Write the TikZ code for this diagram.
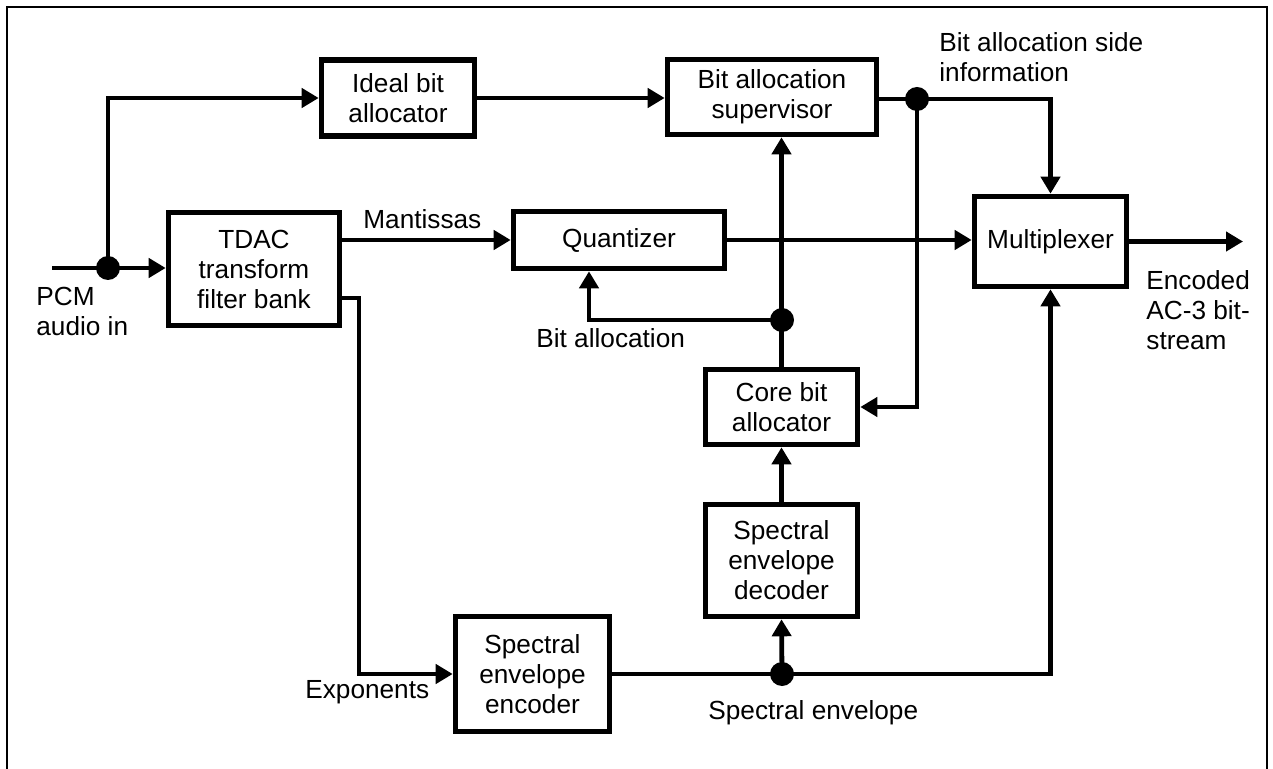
\documentclass[tikz,border=0pt]{standalone}
\usepackage{fontspec}
\setmainfont{Liberation Sans}
\usetikzlibrary{arrows.meta,calc}
\begin{document}
\begin{tikzpicture}[x=0.5pt,y=-0.5pt,
  every node/.style={font=\fontsize{13.1}{15}\selectfont},
  blk/.style={draw,line width=2.8pt,rectangle,align=center,inner sep=0pt},
  conn/.style={line width=2.4pt},
  arr/.style={conn,-{Triangle[length=8.5pt,width=9.5pt]}},
  jdot/.style={circle,fill,inner sep=0pt,minimum size=12pt},
  lbl/.style={inner sep=0pt,align=left}]
\useasboundingbox (0,0) rectangle (1273,769);
\draw[line width=1.2pt] (7,769) -- (7,7) -- (1267,7) -- (1267,769);

% blocks
\node[blk,minimum width=76.5pt,minimum height=38pt] (ideal) at (398,98) {Ideal bit\\allocator};
\node[blk,minimum width=85.5pt,minimum height=56.5pt] (tdac) at (254,269) {TDAC\\transform\\filter bank};
\node[blk,minimum width=104.5pt,minimum height=37.5pt] (sup) at (772,97) {Bit allocation\\supervisor};
\node[blk,minimum width=105.5pt,minimum height=28.5pt] (quant) at (619,240) {Quantizer};
\node[blk,minimum width=76pt,minimum height=45pt] (mux) at (1050.5,241.5) {Multiplexer};
\node[blk,minimum width=76pt,minimum height=37.5pt] (core) at (781.5,407) {Core bit\\allocator};
\node[blk,minimum width=76pt,minimum height=56pt] (dec) at (781.5,560.5) {Spectral\\envelope\\decoder};
\node[blk,minimum width=77pt,minimum height=57.5pt] (enc) at (532.5,674) {Spectral\\envelope\\encoder};

% junctions and free ends
\coordinate (in) at (52,268);
\node[jdot] (d1) at (108,268) {};
\node[jdot] (d2) at (917,99) {};
\node[jdot] (d3) at (782,320) {};
\node[jdot] (d4) at (782,674) {};
\coordinate (y298) at (0,298);
\coordinate (x359) at (359,0);
\coordinate (qin) at (589,0);
\coordinate (out) at (1243,241.5);

% connectors
\draw[arr] (in) -- (d1.center) -- (d1 -| tdac.west);
\draw[arr] (d1.center) |- (ideal.west);
\draw[arr] (ideal.east) -- (ideal.east -| sup.west);
\draw[arr] (tdac.east |- quant) -- (quant.west);
\draw[arr] (tdac.east |- y298) -| (x359 |- enc.west) -- (enc.west);
\draw[arr] (quant.east) -- (quant.east -| mux.west);
\draw[conn] (sup.east |- d2) -- (d2.center);
\draw[arr] (d2.center) -| (mux.north);
\draw[arr] (d2.center) |- (core.east);
\draw[arr] (mux.east) -- (out);
\draw[arr] (core.north) -- (core.north |- sup.south);
\draw[arr] (d3.center) -| (qin |- quant.south);
\draw[arr] (dec.north) -- (core.south);
\draw[conn] (enc.east) -- (d4.center);
\draw[arr] (d4.center) -| (mux.south);
\draw[arr] (d4.center) -- (dec.south);

% labels
\node[lbl,anchor=north west] (lpcm) at (36,287) {PCM\\audio in};
\node[lbl,anchor=base west] (lman) at (363,229) {Mantissas};
\node[lbl,anchor=base west] (lexp) at (305,698) {Exponents};
\node[lbl,anchor=base west] (lba) at (536,348) {Bit allocation};
\node[lbl,anchor=base west] (lse) at (708,719) {Spectral envelope};
\node[lbl,anchor=north west] (lside) at (939,32) {Bit allocation side\\information};
\node[lbl,anchor=north west] (lenc) at (1146,270) {Encoded\\AC-3 bit-\\stream};
\end{tikzpicture}
\end{document}
